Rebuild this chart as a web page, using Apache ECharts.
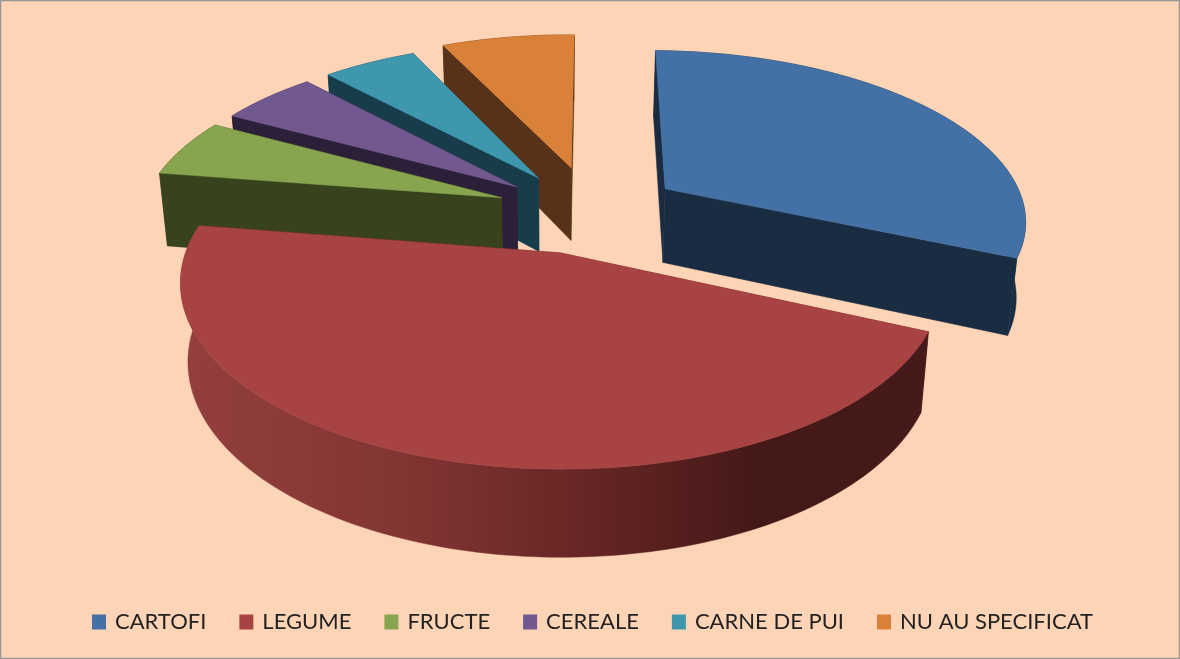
<!DOCTYPE html>
<html><head><meta charset="utf-8">
<style>html,body{margin:0;padding:0;background:#FDD4B6}#c{width:1180px;height:659px}</style>
<script src="https://cdn.jsdelivr.net/npm/echarts@6/dist/echarts.min.js"></script>
</head><body><div id="c"></div>
<script>
const categories = ['CARTOFI','LEGUME','FRUCTE','CEREALE','CARNE DE PUI','NU AU SPECIFICAT'];
const values = [31.4, 45.8, 5.5, 5.2, 5.0, 7.1];
const topColors = ['#4371A6','#A74342','#87A54E','#71598F','#3F97AE','#D98139'];
const wallColors = ['#1A2C42','#602220','#38421D','#2C2039','#173D4A','#583218'];
// explosion of every slice inside the pie plane, in radius units [sideways, toward viewer]
const explodeX = [0.312, 0.015, -0.15, -0.108, -0.047, 0.047];
const explodeY = [-0.16, 0.218, -0.105, -0.171, -0.2265, -0.294];
const drawOrder = [5,4,3,2,0,1];

const cx=555, cy=215, R=362, Ry=168, persp=0.16, depth=75, lower=0.98, startDeg=1;
const total = values.reduce((a,b)=>a+b,0);

function project(X,Y,bottom){
  const s=1/(1-persp*Y);
  const k=bottom?lower:1;
  return [cx+X*R*s*k, cy+Y*Ry*s*k+(bottom?depth*s:0)];
}
function sliceShapes(i,api){
  let acc=0; for(let j=0;j<i;j++) acc+=values[j];
  const a0=(startDeg+acc/total*360)*Math.PI/180;
  const a1=(startDeg+(acc+values[i])/total*360)*Math.PI/180;
  const ox=explodeX[i], oy=explodeY[i];
  const n=Math.max(8,Math.round(values[i]*3));
  const arcT=[],arcB=[];
  for(let k=0;k<=n;k++){
    const a=a0+(a1-a0)*k/n, X=ox+Math.sin(a), Y=oy-Math.cos(a);
    arcT.push(project(X,Y,false)); arcB.push(project(X,Y,true));
  }
  const apT=project(ox,oy,false), apB=project(ox,oy,true);
  const poly=(pts,fill)=>({type:'polygon',shape:{points:pts},style:{fill:fill,stroke:fill,lineWidth:0.5}});
  const wall=wallColors[i];
  let outerFill=wall;
  if(i===1){
    outerFill=new echarts.graphic.LinearGradient(180,0,930,0,[
      {offset:0,color:'#933F3D'},{offset:0.3,color:'#823533'},{offset:0.55,color:'#652524'},
      {offset:0.78,color:'#431817'},{offset:1,color:'#451A18'}],true);
  }
  return [
    poly([apT,arcT[0],arcB[0],apB],wall),
    poly([apT,arcT[n],arcB[n],apB],wall),
    poly(arcT.concat(arcB.slice().reverse()),outerFill),
    poly([apT].concat(arcT),topColors[i])
  ];
}
const series=categories.map((name,i)=>({
  type:'custom',name:name,coordinateSystem:'none',silent:true,
  z:2+drawOrder.indexOf(i),
  itemStyle:{color:topColors[i]},
  data:[[values[i]]],
  renderItem:(p,api)=>({type:'group',children:sliceShapes(i,api)})
}));
const chart=echarts.init(document.getElementById('c'),null,{renderer:'canvas'});
chart.setOption({
  animation:false,
  backgroundColor:'#FDD4B6',
  graphic:[{type:'rect',z:100,silent:true,shape:{x:0.5,y:0.5,width:1179,height:658},style:{fill:'none',stroke:'#969696',lineWidth:1.5}}],
  legend:{data:categories,left:87,top:606,icon:'rect',itemWidth:14,itemHeight:15,itemGap:33,
    selectedMode:false,
    textStyle:{fontFamily:'Lato',fontSize:22,color:'#222222',padding:[0,0,0,4]}},
  series:series
});
</script></body></html>
